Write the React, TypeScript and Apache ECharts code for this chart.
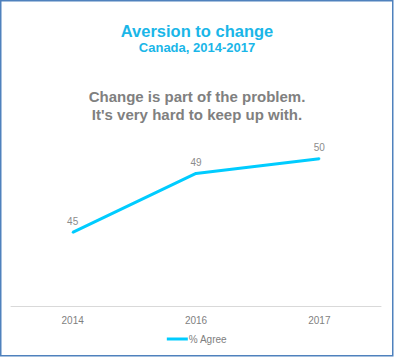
import React, { useEffect, useRef } from "react";
import * as echarts from "echarts";

const years = ["2014", "2016", "2017"];
const agree = [45, 49, 50];
const seriesName = "% Agree";
const titleText = "Aversion to change";
const subtitleText = "Canada, 2014-2017";
const questionLines = ["Change is part of the problem.", "It's very hard to keep up with."];

export default function App() {
  const ref = useRef<HTMLDivElement>(null);
  useEffect(() => {
    document.body.style.margin = "0";
    const chart = echarts.init(ref.current!, null, { renderer: "svg" });
    const font = "Arial, 'Liberation Sans', sans-serif";
    chart.setOption({
      animation: false,
      backgroundColor: "#ffffff",
      textStyle: { fontFamily: font },
      title: [
        {
          text: titleText,
          left: "center",
          top: 22,
          padding: 0,
          textStyle: { color: "#1ab6e8", fontSize: 16.5, fontWeight: "bold", fontFamily: font },
        },
        {
          text: subtitleText,
          left: "center",
          top: 41,
          padding: 0,
          textStyle: { color: "#1ab6e8", fontSize: 13, fontWeight: "bold", fontFamily: font },
        },
      ],
      graphic: [
        {
          type: "rect",
          shape: { x: 0.75, y: 0.75, width: 392, height: 355 },
          style: { fill: "none", stroke: "#4f81bd", lineWidth: 1.5 },
          silent: true,
        },
        ...questionLines.map((line, i) => ({
          type: "text",
          x: 197,
          y: 96 + i * 18,
          silent: true,
          style: {
            text: line,
            fill: "#808080",
            fontSize: 15,
            fontWeight: "bold",
            fontFamily: font,
            textAlign: "center",
            textVerticalAlign: "middle",
          },
        })),
      ],
      legend: {
        data: [seriesName],
        bottom: 8,
        left: "center",
        itemWidth: 21,
        itemHeight: 3,
        itemGap: 5,
        icon: "rect",
        itemStyle: { color: "#00ccff", opacity: 1 },
        textStyle: { color: "#808080", fontSize: 10, fontFamily: font, padding: [0, 0, 0, -4] },
      },
      grid: { left: 11, right: 13, top: 85, bottom: 51, containLabel: false },
      xAxis: {
        type: "category",
        data: years,
        boundaryGap: true,
        axisLine: { show: true, lineStyle: { color: "#d9d9d9", width: 1 } },
        axisTick: { show: false },
        axisLabel: { color: "#7f7f7f", fontSize: 10, margin: 9, fontFamily: font },
      },
      yAxis: {
        type: "value",
        min: 40,
        max: 55,
        show: false,
        splitLine: { show: false },
      },
      series: [
        {
          name: seriesName,
          type: "line",
          data: agree,
          symbol: "circle",
          symbolSize: 2,
          showSymbol: true,
          lineStyle: { color: "#00ccff", width: 3 },
          itemStyle: { color: "#00ccff" },
          label: {
            show: true,
            position: "top",
            distance: 5,
            color: "#8c8c8c",
            fontSize: 10,
            fontFamily: font,
          },
        },
      ],
    });
    return () => chart.dispose();
  }, []);
  return <div ref={ref} style={{ position: "absolute", left: 0, top: 0, width: 394, height: 357 }} />;
}
